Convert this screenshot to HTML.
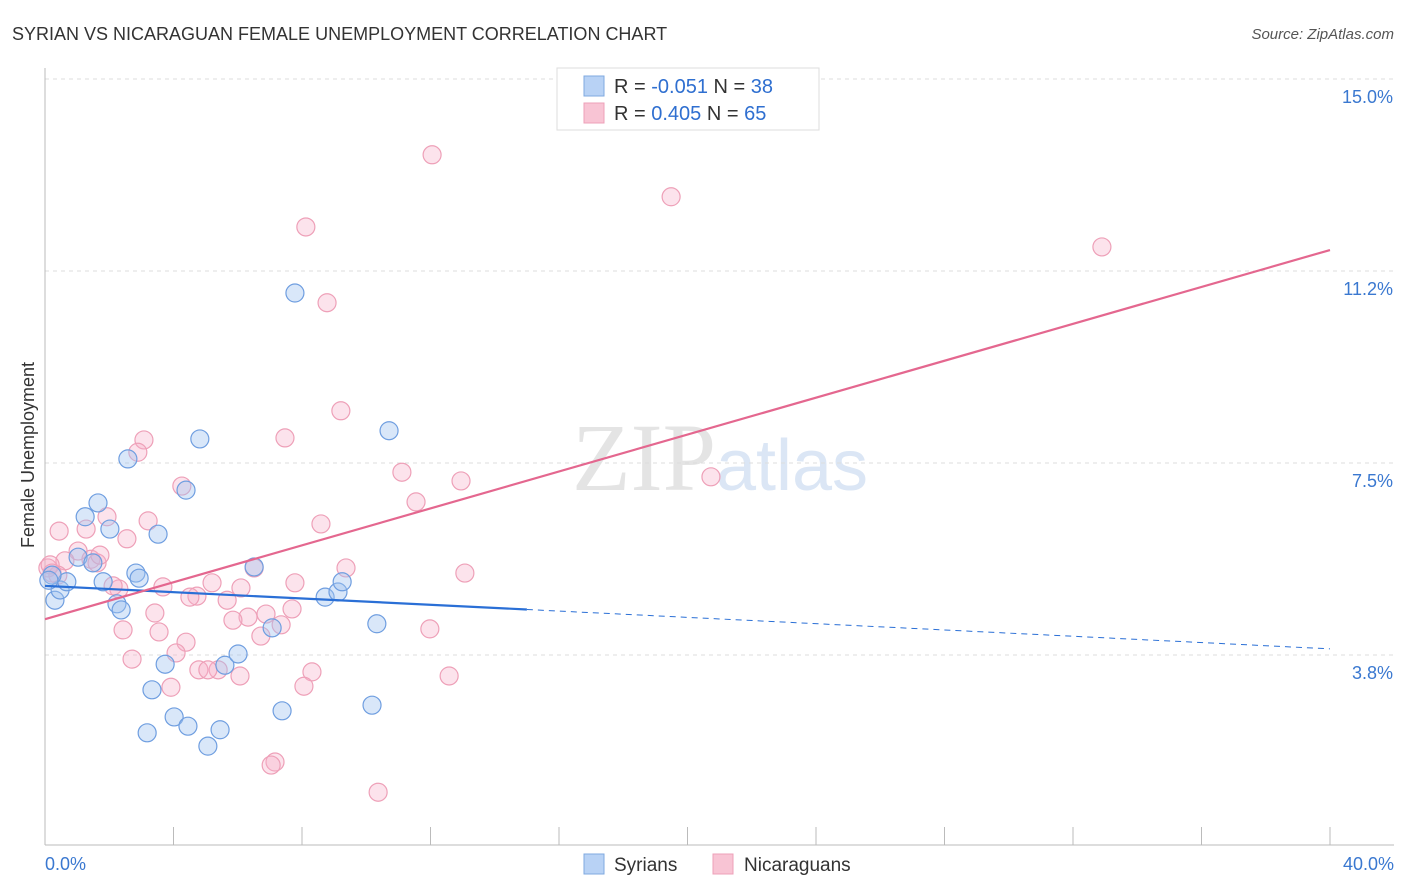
<!DOCTYPE html>
<html><head><meta charset="utf-8"><style>
body{margin:0;background:#fff;font-family:"Liberation Sans",sans-serif;}
svg{display:block}
</style></head><body>
<svg id="chart" width="1406" height="892">
<text x="12" y="40" font-size="18" fill="#333">SYRIAN VS NICARAGUAN FEMALE UNEMPLOYMENT CORRELATION CHART</text>
<text x="1394" y="39" font-size="15" fill="#555" font-style="italic" text-anchor="end">Source: ZipAtlas.com</text>
<text x="720" y="490" font-size="96" fill="#e4e4e4" text-anchor="middle" font-family="Liberation Serif,serif">ZIP<tspan fill="#dbe6f5" font-family="Liberation Sans,sans-serif" font-size="72">atlas</tspan></text>
<g id="grid"></g>
<g id="axes"></g>
<g id="points"></g>
<g id="trends"></g>
<text x="34" y="455" font-size="18" fill="#333" text-anchor="middle" transform="rotate(-90 34 455)">Female Unemployment</text>
<g>
<rect x="557" y="68" width="262" height="62" fill="#fff" stroke="#ddd"/>
<rect x="584" y="76" width="20" height="20" fill="#b8d2f5" stroke="#7fa9e0"/>
<rect x="584" y="103" width="20" height="20" fill="#f8c4d4" stroke="#eea0b8"/>
<text x="614" y="93" font-size="20" fill="#333">R = <tspan fill="#2f6fd0">-0.051</tspan>   N = <tspan fill="#2f6fd0">38</tspan></text>
<text x="614" y="120" font-size="20" fill="#333">R =  <tspan fill="#2f6fd0">0.405</tspan>   N = <tspan fill="#2f6fd0">65</tspan></text>
</g>
<g>
<rect x="584" y="854" width="20" height="20" fill="#b8d2f5" stroke="#7fa9e0"/>
<text x="614" y="871" font-size="19" fill="#333">Syrians</text>
<rect x="713" y="854" width="20" height="20" fill="#f8c4d4" stroke="#eea0b8"/>
<text x="744" y="871" font-size="19" fill="#333">Nicaraguans</text>
</g>
</svg>
<script>
const yTicks=[15.0,11.25,7.5,3.75];
const yTickLabels=["15.0%","11.2%","7.5%","3.8%"];
const xTickVals=[0,4,8,12,16,20,24,28,32,36,40];
const syrX=[0.31,0.47,0.68,0.22,1.03,1.49,1.65,1.25,2.02,1.81,2.24,2.37,2.58,2.83,2.93,3.52,3.74,3.33,3.18,4.02,4.45,4.39,4.82,5.07,5.45,5.60,6.01,6.51,7.07,7.38,7.78,8.72,9.12,9.25,10.33,10.18,10.71,0.12];
const syrY=[4.82,5.02,5.18,5.31,5.66,5.55,6.72,6.45,6.21,5.18,4.75,4.63,7.58,5.35,5.25,6.11,3.57,3.07,2.23,2.54,2.36,6.97,7.97,1.97,2.29,3.55,3.77,5.47,4.28,2.66,10.82,4.88,4.98,5.18,4.36,2.77,8.13,5.21];
const nicX=[12.05,19.49,8.12,32.90,8.78,9.21,3.08,2.89,7.47,11.11,12.95,20.73,4.26,11.55,3.21,8.59,1.93,0.44,1.28,2.55,1.03,1.43,1.62,0.62,0.09,0.40,0.16,9.37,6.51,13.07,5.20,6.10,7.78,3.67,2.30,2.12,4.73,4.51,5.67,7.69,3.42,6.88,6.32,5.85,7.35,2.43,3.55,11.98,6.72,4.39,4.08,2.71,4.79,5.39,5.07,8.31,6.07,12.58,8.06,3.92,7.16,7.04,10.37,0.22,1.71];
const nicY=[13.52,12.70,12.11,11.72,10.63,8.52,7.95,7.71,7.99,7.32,7.15,7.23,7.05,6.74,6.37,6.31,6.45,6.17,6.21,6.02,5.78,5.62,5.55,5.59,5.45,5.31,5.51,5.45,5.45,5.35,5.16,5.06,5.16,5.08,5.04,5.10,4.90,4.88,4.82,4.65,4.57,4.55,4.49,4.43,4.34,4.24,4.20,4.26,4.12,4.00,3.79,3.67,3.46,3.46,3.46,3.42,3.34,3.34,3.14,3.12,1.66,1.60,1.07,5.35,5.70];
const syrTrend=[5.10,3.87]; const syrSolidEnd=15;
const nicTrend=[4.45,11.66];
const X=v=>45+v*32.125, Y=v=>79+(15-v)*51.2;
const NS="http://www.w3.org/2000/svg";
function mk(tag,attrs,parent){const e=document.createElementNS(NS,tag);for(const k in attrs)e.setAttribute(k,attrs[k]);document.getElementById(parent).appendChild(e);return e;}
yTicks.forEach((t,i)=>{
 const l=mk('line',{x1:45,x2:1394,y1:Y(t),y2:Y(t),stroke:'#ddd','stroke-dasharray':'4,4'},'grid');
 
 
 const tx=mk('text',{x:1393,y:Y(t)+24,'font-size':18,fill:'#3a78d0','text-anchor':'end'},'axes');
 tx.textContent=yTickLabels[i];
 
 
});
const ax=mk('line',{x1:45,x2:1394,y1:845,y2:845,stroke:'#bbb'},'axes');


const ay=mk('line',{x1:45,x2:45,y1:68,y2:845,stroke:'#bbb'},'axes');


xTickVals.forEach(v=>{
 const t=mk('line',{x1:X(v),x2:X(v),y1:827,y2:845,stroke:'#bbb'},'axes');
 
 
});
[[0,"0.0%","start",45],[40,"40.0%","end",1394]].forEach(d=>{
 const t=mk('text',{x:d[3],y:870,'font-size':18,fill:'#3a78d0','text-anchor':d[2]},'axes');
 t.textContent=d[1];
 
 
});
nicX.forEach((x,i)=>{
 const c=mk('circle',{cx:X(x),cy:Y(nicY[i]),r:9,fill:'rgba(246,175,200,0.35)',stroke:'#eea0b8','stroke-width':1.2},'points');
 
 
});
syrX.forEach((x,i)=>{
 const c=mk('circle',{cx:X(x),cy:Y(syrY[i]),r:9,fill:'rgba(160,195,240,0.4)',stroke:'#6f9ee0','stroke-width':1.2},'points');
 
 
});
const sAt=v=>syrTrend[0]+(syrTrend[1]-syrTrend[0])*v/40;
const s1=mk('line',{x1:X(0),y1:Y(syrTrend[0]),x2:X(syrSolidEnd),y2:Y(sAt(syrSolidEnd)),stroke:'#2a6fd6','stroke-width':2.2},'trends');


const s2=mk('line',{x1:X(syrSolidEnd),y1:Y(sAt(syrSolidEnd)),x2:X(40),y2:Y(syrTrend[1]),stroke:'#2a6fd6','stroke-width':1,'stroke-dasharray':'6,5'},'trends');


const n1=mk('line',{x1:X(0),y1:Y(nicTrend[0]),x2:X(40),y2:Y(nicTrend[1]),stroke:'#e4678f','stroke-width':2.2},'trends');


</script>
</body></html>
